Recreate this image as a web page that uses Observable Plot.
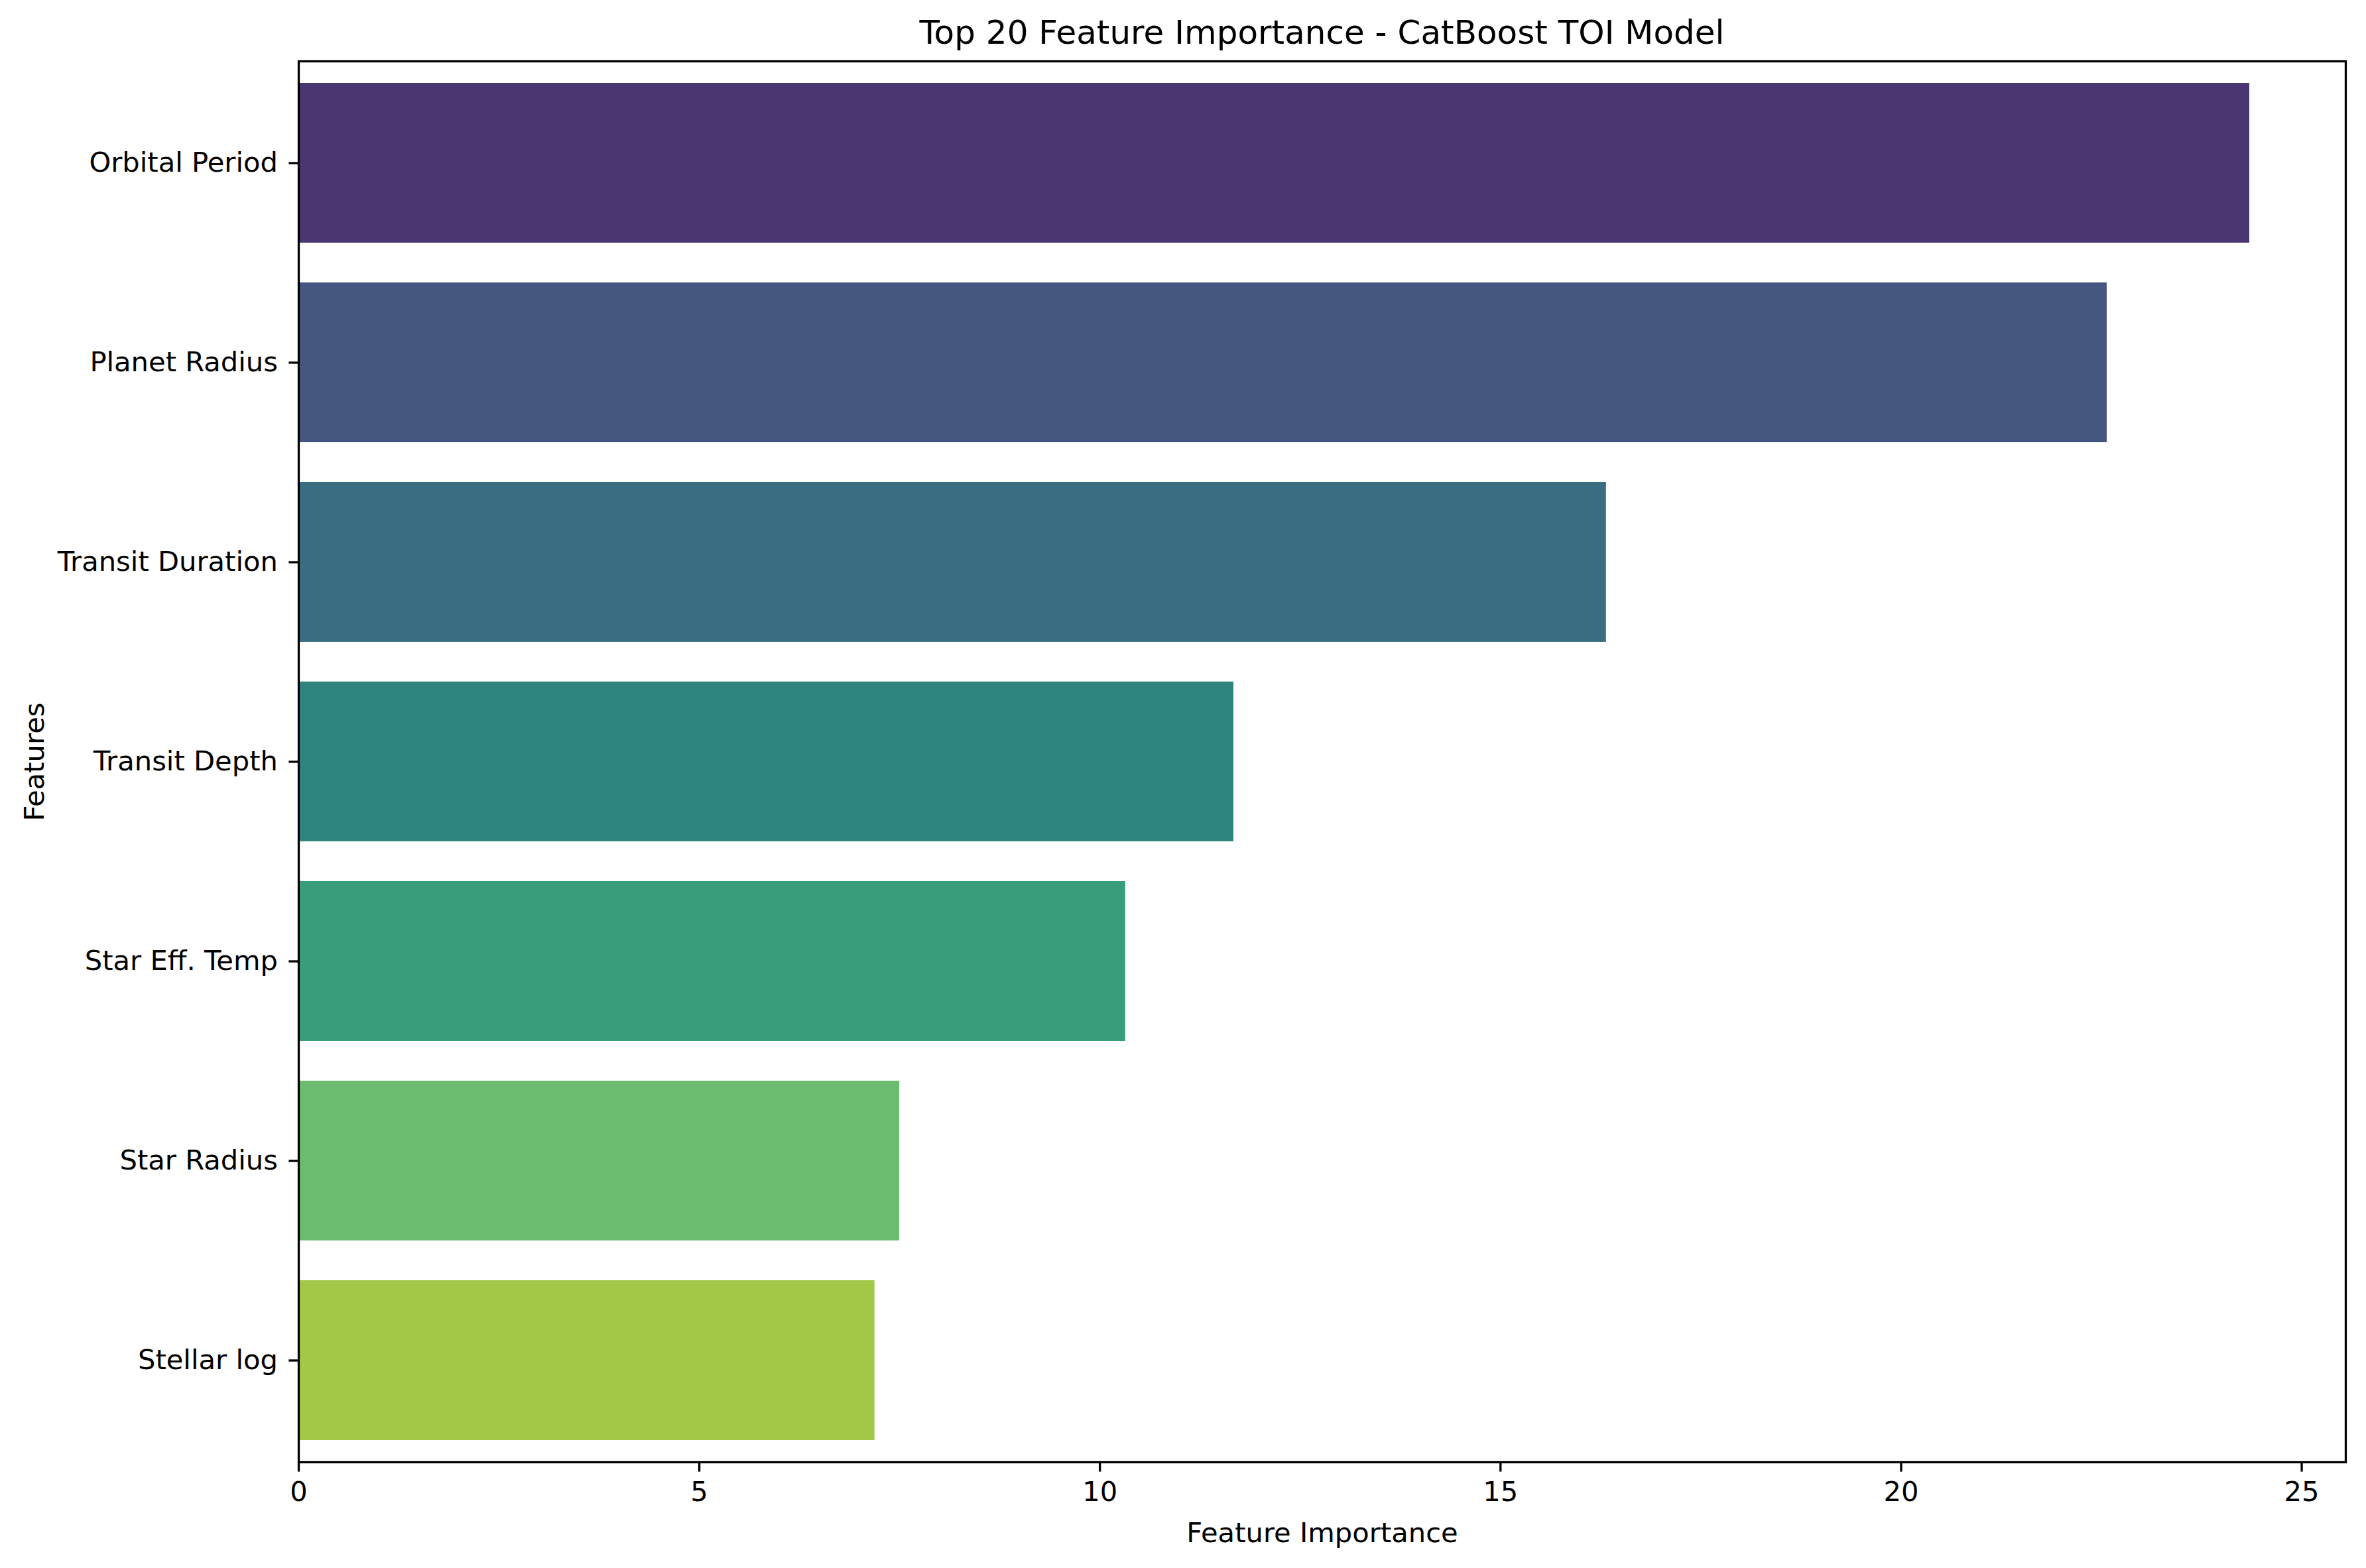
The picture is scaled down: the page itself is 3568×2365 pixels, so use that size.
<!DOCTYPE html>
<html>
<head>
<meta charset="utf-8">
<script src="https://cdn.jsdelivr.net/npm/d3@7"></script>
<script src="https://cdn.jsdelivr.net/npm/@observablehq/plot@0.6"></script>
<style>
  html, body { margin: 0; padding: 0; background: #ffffff; }
  body { width: 3568px; height: 2365px; overflow: hidden; font-family: "DejaVu Sans", sans-serif; color: #000; }
  #title { box-sizing: border-box; margin-left: 450px; width: 3087px; height: 79px; padding-top: 19px;
           font-size: 50px; line-height: 60px; text-align: center; white-space: nowrap; }
  svg { display: block; }
</style>
</head>
<body>
<div id="title">Top 20 Feature Importance - CatBoost TOI Model</div>
<div id="chart"></div>
<script>
const features = ["Orbital Period", "Planet Radius", "Transit Duration", "Transit Depth", "Star Eff. Temp", "Star Radius", "Stellar log"];
const importance = [24.35, 22.57, 16.32, 11.67, 10.32, 7.50, 7.19];
const barColors = ["#4a3771", "#455681", "#386d82", "#2f837f", "#399d7b", "#6bbc6e", "#a3c746"];
const xTicks = [0, 5, 10, 15, 20, 25];
const xLabel = "Feature Importance";
const yLabel = "Features";

const data = features.map((f, i) => ({feature: f, value: importance[i]}));

const chart = Plot.plot({
  width: 3568,
  height: 2286,
  marginLeft: 450,
  marginRight: 31,
  marginTop: 13,
  marginBottom: 160,
  style: {background: "#ffffff", color: "#000000", fontFamily: "DejaVu Sans, sans-serif"},
  x: {domain: [0, 25.55]},
  y: {domain: features, paddingInner: 0.2, paddingOuter: 0.1},
  color: {domain: features, range: barColors},
  marks: [
    Plot.barX(data, {x: "value", y: "feature", fill: "feature"}),
    Plot.axisX({ticks: xTicks, tickFormat: d => String(d), tickSize: 14.6, tickPadding: 14, fontSize: 41.67,
                strokeWidth: 3.3, label: null}),
    Plot.axisY({tickSize: 14.6, tickPadding: 17, fontSize: 41.67, strokeWidth: 3.3, label: null}),
    Plot.frame({stroke: "#000000", strokeWidth: 3.3}),
    Plot.text([xLabel], {text: d => d, frameAnchor: "bottom", dy: 107, fontSize: 41.67, lineAnchor: "middle", textAnchor: "middle", fill: "#000"}),
    Plot.text([yLabel], {text: d => d, frameAnchor: "left", dx: -398, rotate: -90, fontSize: 41.67, lineAnchor: "middle", textAnchor: "middle", fill: "#000"})
  ]
});
document.getElementById("chart").appendChild(chart);
</script>
</body>
</html>
